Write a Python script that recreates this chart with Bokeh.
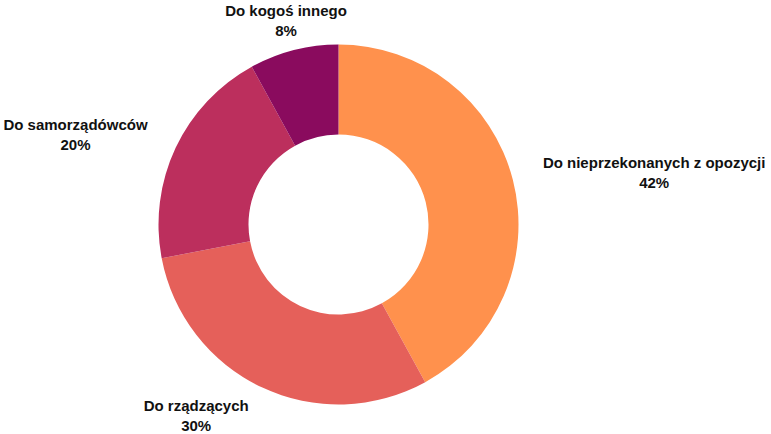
import math
from bokeh.plotting import figure
from bokeh.models import ColumnDataSource, Range1d
from bokeh.core.properties import value
from bokeh.embed import file_html
from bokeh.resources import INLINE

categories = ["Do nieprzekonanych z opozycji", "Do rządzących", "Do samorządówców", "Do kogoś innego"]
shares = [42, 30, 20, 8]
colors = ["#FF914D", "#E5605A", "#BC2F5D", "#8A0B5E"]

W, H = 771, 434
cx, cy = 338, H - 224
R_OUT, R_IN, R_LBL = 180, 90, 211
FONT_PX = 15

# approximate Liberation Sans Bold advance widths (per 1000 em)
_wid = {" ": 278, "D": 722, "%": 889}
for ch in "aąbcdeghknopqsśuvxyzó0123456789":
    _wid[ch] = 556
for ch in "bdghnopqó":
    _wid[ch] = 611
for ch in "ijl":
    _wid[ch] = 278
_wid.update({"r": 389, "z": 500, "m": 889, "w": 778, "t": 333, "f": 333, "c": 556})


def text_w(s):
    return sum(_wid.get(ch, 600) for ch in s) * FONT_PX / 1000


total = sum(shares)
starts, ends, bx, ly, pct = [], [], [], [], []
cum = 0
for cat, s in zip(categories, shares):
    a0 = math.pi / 2 - 2 * math.pi * cum / total
    cum += s
    a1 = math.pi / 2 - 2 * math.pi * cum / total
    starts.append(a0)
    ends.append(a1)
    mid = (a0 + a1) / 2
    x = cx + R_LBL * math.cos(mid)
    y = cy + R_LBL * math.sin(mid)
    label_pct = f"{s}%"
    bw = max(text_w(cat), text_w(label_pct))
    c = math.cos(mid)
    if c > 0.3:
        x += bw / 2
    elif c < -0.3:
        x -= bw / 2
    bx.append(x)
    ly.append(y)
    pct.append(label_pct)

src = ColumnDataSource(dict(
    cat=categories, share=shares, color=colors, start=starts, end=ends,
    bx=bx, ly1=[y + 10 for y in ly], ly2=[y - 10 for y in ly], pct=pct,
))

p = figure(width=W, height=H, output_backend="svg", toolbar_location=None,
           x_range=Range1d(0, W), y_range=Range1d(0, H), min_border=0)
p.axis.visible = False
p.grid.visible = False
p.outline_line_color = None
p.background_fill_color = "white"

p.annular_wedge(x=cx, y=cy, inner_radius=R_IN, outer_radius=R_OUT,
                start_angle="start", end_angle="end", direction="clock",
                fill_color="color", line_color=None, source=src)

for ycol, txt in (("ly1", "cat"), ("ly2", "pct")):
    p.text(x="bx", y=ycol, text=txt, source=src, text_align="center",
           text_baseline="middle", text_font=value("Liberation Sans"),
           text_font_size=f"{FONT_PX}px", text_font_style="bold", text_color="#111111")

open("out.html", "w").write(file_html(p, INLINE))
